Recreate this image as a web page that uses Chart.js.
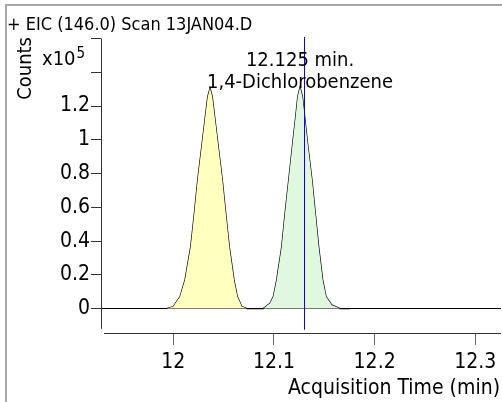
<!DOCTYPE html>
<html>
<head>
<meta charset="utf-8">
<script src="https://cdn.jsdelivr.net/npm/chart.js@4.4.1/dist/chart.umd.min.js"></script>
<style>
  html, body { margin: 0; padding: 0; background: #fff; }
  canvas { display: block; }
</style>
</head>
<body>
<canvas id="eicChart" width="502" height="402"></canvas>
<script>
// ---- data (counts in units of 10^5, time in min) ----
const peak1Time   = [11.9934, 12.0000, 12.0067, 12.0116, 12.0173, 12.0209, 12.0242, 12.0282, 12.0322, 12.0342, 12.0365,
                     12.0387, 12.0407, 12.0447, 12.0487, 12.0521, 12.0556, 12.0603, 12.0636, 12.0680, 12.0732];
const peak1Counts = [0, 0.012, 0.071, 0.170, 0.367, 0.565, 0.762, 0.959, 1.157, 1.255, 1.305,
                     1.255, 1.157, 0.959, 0.762, 0.565, 0.367, 0.170, 0.071, 0.012, 0];

const peak2Time   = [12.0894, 12.0961, 12.0994, 12.1027, 12.1077, 12.1110, 12.1146, 12.1182, 12.1219, 12.1236, 12.1259,
                     12.1283, 12.1301, 12.1338, 12.1378, 12.1411, 12.1444, 12.1484, 12.1517, 12.1573, 12.1656, 12.1755];
const peak2Counts = [0, 0.032, 0.071, 0.170, 0.367, 0.565, 0.762, 0.959, 1.157, 1.255, 1.311,
                     1.255, 1.157, 0.959, 0.762, 0.565, 0.367, 0.170, 0.071, 0.022, 0, 0];

const xTickValues = [12, 12.1, 12.2, 12.3];
const xTickLabels = ["12", "12.1", "12.2", "12.3"];
const yTickValues = [0, 0.2, 0.4, 0.6, 0.8, 1, 1.2, 1.4, 1.6];
const yTickLabels = ["0", "0.2", "0.4", "0.6", "0.8", "1", "1.2", "", ""];

const markerTime = 12.1298;     // blue cursor line
const peakLabelTime = 12.1259;  // apex of the labelled peak
const peakLabelCounts = 1.311;
const titleText = "+ EIC (146.0) Scan 13JAN04.D";
const peakLabel1 = "12.125 min.";
const peakLabel2 = "1,4-Dichlorobenzene";

const FONT = "'DejaVu Sans Condensed', 'DejaVu Sans', sans-serif";

const toPts = (xs, ys) => xs.map((x, i) => ({ x: x, y: ys[i] }));

// ---- extra drawing: frame, axis lines, cursor, texts ----
const decorPlugin = {
    id: "decor",
    beforeDatasetsDraw(chart) {
        const ctx = chart.ctx;
        const ca = chart.chartArea;
        const ys = chart.scales.y;
        ctx.save();
        // gray frame (top + left)
        ctx.strokeStyle = "#a8a8a8";
        ctx.lineWidth = 2;
        ctx.beginPath();
        ctx.moveTo(6, 402);
        ctx.lineTo(6, 5);
        ctx.lineTo(502, 5);
        ctx.stroke();
        // axis lines
        ctx.strokeStyle = "#333";
        ctx.lineWidth = 1;
        ctx.beginPath();
        ctx.moveTo(ca.left + 0.5, ca.top);
        ctx.lineTo(ca.left + 0.5, ys.getPixelForValue(-0.12));
        ctx.moveTo(ca.left + 3, ca.bottom + 0.5);
        ctx.lineTo(ca.right, ca.bottom + 0.5);
        ctx.stroke();
        ctx.restore();
    },
    afterDatasetsDraw(chart) {
        const ctx = chart.ctx;
        const ca = chart.chartArea;
        const xs = chart.scales.x, ys = chart.scales.y;
        ctx.save();
        // cursor
        const mx = Math.round(xs.getPixelForValue(markerTime)) + 0.5;
        ctx.strokeStyle = "#1010a0";
        ctx.lineWidth = 1;
        ctx.beginPath();
        ctx.moveTo(mx, ca.top - 1.5);
        ctx.lineTo(mx, ys.getPixelForValue(-0.125));
        ctx.stroke();

        ctx.fillStyle = "#000";
        ctx.textBaseline = "alphabetic";
        // title
        ctx.font = "18px " + FONT;
        ctx.textAlign = "left";
        ctx.fillText(titleText, 7, 30);
        // y unit
        ctx.font = "20px " + FONT;
        ctx.fillText("x10", 42, 65);
        const w = ctx.measureText("x10").width;
        ctx.font = "15px " + FONT;
        ctx.fillText("5", 42 + w + 1, 58);
        // Counts
        ctx.save();
        ctx.translate(31, 37);
        ctx.rotate(-Math.PI / 2);
        ctx.font = "20px " + FONT;
        ctx.textAlign = "right";
        ctx.fillText("Counts", 0, 0);
        ctx.restore();
        // peak annotation
        const px = xs.getPixelForValue(peakLabelTime);
        const py = ys.getPixelForValue(peakLabelCounts);
        ctx.font = "20px " + FONT;
        ctx.textAlign = "center";
        ctx.fillText(peakLabel1, px, py - 21);
        ctx.fillText(peakLabel2, px, py + 0.5);
        // x axis title
        ctx.font = "21px " + FONT;
        ctx.textAlign = "right";
        ctx.fillText("Acquisition Time (min)", 500, 394);
        ctx.restore();
    }
};

const ctx = document.getElementById("eicChart").getContext("2d");
const eicChart = new Chart(ctx, {
    type: "line",
    data: {
        datasets: [
            {   // yellow peak fill
                data: toPts(peak1Time, peak1Counts),
                borderWidth: 0,
                backgroundColor: "#ffffc0",
                fill: "origin",
                pointRadius: 0
            },
            {   // green peak fill
                data: toPts(peak2Time, peak2Counts),
                borderWidth: 0,
                backgroundColor: "#e0f8e0",
                fill: "origin",
                pointRadius: 0
            },
            {   // the trace itself
                data: toPts(peak1Time.concat(peak2Time), peak1Counts.concat(peak2Counts)),
                borderColor: "#000",
                borderWidth: 1.3,
                fill: false,
                pointRadius: 0
            }
        ]
    },
    options: {
        responsive: false,
        animation: false,
        devicePixelRatio: 1,
        layout: { padding: { top: 38.5, right: 1, left: 0, bottom: 0 } },
        plugins: { legend: { display: false }, tooltip: { enabled: false } },
        scales: {
            x: {
                type: "linear",
                min: 11.92818,
                max: 12.32553,
                border: { display: false },
                grid: { drawOnChartArea: false, tickLength: 12, tickColor: "#666" },
                afterBuildTicks: (s) => { s.ticks = xTickValues.map(v => ({ value: v })); },
                afterFit: (s) => { s.height = 69; },
                ticks: {
                    autoSkip: false,
                    maxRotation: 0,
                    padding: 5,
                    color: "#000",
                    font: { family: FONT, size: 21 },
                    callback: (v, i) => xTickLabels[i]
                }
            },
            y: {
                type: "linear",
                min: -0.1446,
                max: 1.6,
                border: { display: false },
                grid: {
                    tickLength: 10,
                    tickColor: "#333",
                    color: (c) => (c.tick && c.tick.value === 0 ? "#000" : "rgba(0,0,0,0)"),
                    lineWidth: 1
                },
                afterBuildTicks: (s) => { s.ticks = yTickValues.map(v => ({ value: v })); },
                afterFit: (s) => { s.width = 101; },
                ticks: {
                    autoSkip: false,
                    padding: 1,
                    color: "#000",
                    font: { family: FONT, size: 21 },
                    callback: (v, i) => yTickLabels[i]
                }
            }
        }
    },
    plugins: [decorPlugin]
});
</script>
</body>
</html>
